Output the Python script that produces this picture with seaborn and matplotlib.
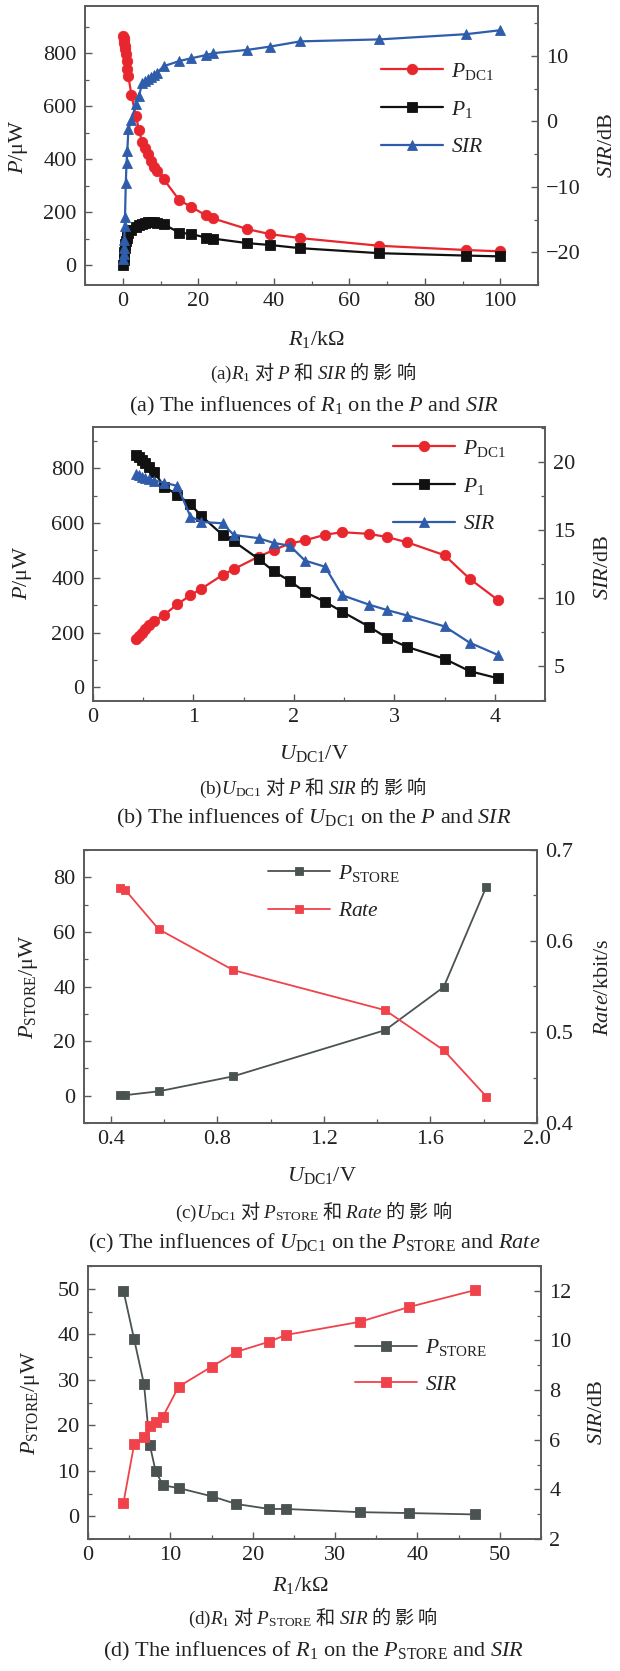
import matplotlib
matplotlib.use("Agg")
import matplotlib.pyplot as plt
import seaborn as sns
from matplotlib.ticker import MultipleLocator, FixedLocator
from matplotlib.lines import Line2D

# ---------------- data ----------------
# (a) influence of R1
a_R1 = [0.1, 0.2, 0.3, 0.4, 0.5, 0.6, 0.8, 1.0, 1.2, 1.5, 2.3, 3.5, 4.3, 5.1, 5.8,
        6.6, 7.5, 8.3, 9.1, 10.8, 15, 18, 22, 24, 33, 39, 47, 68, 91, 100]
a_PDC1 = [865, 858, 850, 840, 828, 814, 795, 770, 742, 712, 642, 561, 511, 465, 441,
          420, 394, 372, 356, 325, 245, 221, 188, 176, 136, 117, 102, 73, 57, 52]
a_P1 = [0, 18, 35, 50, 64, 78, 92, 104, 112, 120, 133, 145, 152, 157, 160,
        162, 163, 162, 160, 155, 122, 118, 104, 100, 83, 76, 64, 45, 36, 33]
a_SIR = [-21.0, -20.2, -19.3, -18.2, -16.0, -14.6, -9.5, -6.4, -4.6, -1.2, 0.2, 2.6, 3.8, 5.8, 6.2,
         6.5, 6.8, 7.1, 7.4, 8.4, 9.2, 9.6, 10.1, 10.4, 10.9, 11.4, 12.2, 12.5, 13.3, 13.9]

# (b) influence of U_DC1
b_U = [0.43, 0.46, 0.49, 0.52, 0.56, 0.61, 0.71, 0.84, 0.97, 1.08, 1.29, 1.40,
       1.65, 1.80, 1.96, 2.11, 2.31, 2.48, 2.75, 2.93, 3.13, 3.50, 3.75, 4.03]
b_PDC1 = [176, 188, 200, 213, 228, 243, 265, 303, 336, 360, 410, 431,
          477, 501, 525, 536, 557, 566, 560, 548, 529, 482, 396, 319]
b_P1 = [848, 840, 830, 818, 805, 785, 732, 702, 668, 625, 556, 533,
        468, 423, 388, 348, 312, 276, 221, 180, 147, 104, 59, 33]
b_SIR = [19.15, 19.05, 18.95, 18.85, 18.75, 18.65, 18.5, 18.25, 16.0, 15.6, 15.5, 14.65,
         14.4, 14.05, 13.85, 12.75, 12.3, 10.2, 9.5, 9.1, 8.7, 7.9, 6.7, 5.8]

# (c) influence of U_DC1 on P_STORE and Rate
c_U = [0.435, 0.455, 0.58, 0.86, 1.43, 1.65, 1.81]
c_PSTORE = [0.1, 0.2, 1.6, 7.1, 24.0, 39.8, 76.6]
c_Rate = [0.658, 0.656, 0.613, 0.568, 0.524, 0.480, 0.429]

# (d) influence of R1 on P_STORE and SIR
d_R1 = [4.3, 5.6, 6.8, 7.5, 8.2, 9.1, 11, 15, 18, 22, 24, 33, 39, 47]
d_PSTORE = [49.6, 38.9, 29.0, 15.7, 10.0, 6.8, 6.2, 4.4, 2.7, 1.6, 1.6, 0.9, 0.7, 0.4]
d_SIR = [3.45, 5.81, 6.10, 6.55, 6.71, 6.93, 8.14, 8.94, 9.54, 9.95, 10.22, 10.75, 11.35, 12.03]

# ---------------- style ----------------
sns.set_style("ticks")
plt.rcParams["font.family"] = ["Liberation Serif", "Noto Sans CJK SC"]
plt.rcParams["mathtext.fontset"] = "custom"
plt.rcParams["mathtext.rm"] = "Liberation Serif"
plt.rcParams["mathtext.it"] = "Liberation Serif:italic"
plt.rcParams["mathtext.bf"] = "Liberation Serif:bold"

RED = "#e8262d"
BLACK = "#111111"
BLUE = "#2f5dab"
GRAY = "#4b5252"
RED2 = "#f0424a"
TXT = "#222222"
SPINE = "#5a5a5a"
TICK = 16

W, H = 620, 1671
fig = plt.figure(figsize=(W / 100, H / 100), dpi=100)


def box(l, t, r, b):
    return [l / W, 1 - b / H, (r - l) / W, (b - t) / H]


def style(ax, ax2):
    for a in (ax, ax2):
        for s in a.spines.values():
            s.set_color(SPINE)
            s.set_linewidth(1.2)
        a.set_xlabel("")
        a.set_ylabel("")
    ax.tick_params(axis="both", which="both", direction="in", colors=SPINE,
                   labelcolor=TXT, labelsize=TICK, top=False, right=False)
    ax.tick_params(axis="both", which="major", length=5, width=1.0)
    ax.tick_params(axis="both", which="minor", length=3, width=0.9)
    ax.tick_params(axis="x", which="major", pad=5)
    ax.tick_params(axis="y", which="major", pad=6)
    ax2.tick_params(axis="y", which="both", direction="in", colors=SPINE,
                    labelcolor=TXT, labelsize=TICK, left=False)
    ax2.tick_params(axis="y", which="major", length=5, width=1.0, pad=6)
    ax2.tick_params(axis="y", which="minor", length=3, width=0.9)


def line(ax, x, y, color, marker, ms, lw):
    sns.lineplot(x=x, y=y, ax=ax, color=color, marker=marker, markersize=ms,
                 markeredgecolor=color, markeredgewidth=0.6, linewidth=lw,
                 legend=False)


def proxy(color, marker, ms, lw):
    return Line2D([], [], color=color, marker=marker, markersize=ms,
                  markeredgecolor=color, markeredgewidth=0.6, linewidth=lw)


def legend(ax, handles, labels, x, y, spacing):
    ax.legend(handles, labels, loc="center left", bbox_to_anchor=(x / W, 1 - y / H),
              bbox_transform=fig.transFigure, frameon=False, fontsize=15.5,
              handlelength=2.9, handletextpad=0.35, labelspacing=spacing,
              borderpad=0, borderaxespad=0, labelcolor=TXT)


def ftext(x, y, s, size=16, rot=0, fam=None):
    kw = {}
    if fam is not None:
        kw["family"] = fam
    fig.text(x / W, 1 - y / H, s, ha="center", va="center", rotation=rot,
             fontsize=size, color=TXT, **kw)


CJK = ["Noto Sans CJK SC"]
CN = 13.8
EN = 16

# ---------------- (a) ----------------
ax = fig.add_axes(box(85, 6, 538, 285))
ax2 = ax.twinx()
line(ax, a_R1, a_PDC1, RED, "o", 7.5, 1.6)
line(ax, a_R1, a_P1, BLACK, "s", 6.5, 1.6)
line(ax2, a_R1, a_SIR, BLUE, "^", 7.5, 1.6)
ax.set_xlim(-10, 110)
ax.set_ylim(-75, 978)
ax2.set_ylim(-25, 17.6)
ax.xaxis.set_major_locator(MultipleLocator(20))
ax.xaxis.set_minor_locator(MultipleLocator(10))
ax.yaxis.set_major_locator(MultipleLocator(200))
ax.yaxis.set_minor_locator(MultipleLocator(100))
ax2.yaxis.set_major_locator(MultipleLocator(10))
ax2.yaxis.set_minor_locator(MultipleLocator(5))
style(ax, ax2)
legend(ax2, [proxy(RED, "o", 7.5, 1.6), proxy(BLACK, "s", 6.5, 1.6), proxy(BLUE, "^", 7.5, 1.6)],
       [r"$P_{\mathrm{DC1}}$", r"$P_{\mathrm{1}}$", r"$SIR$"], 381, 109, 0.8)
ftext(19, 147, r"$P$/μW", rot=90)
ftext(608, 145, r"$SIR$/dB", rot=90)
ftext(316, 340, r"$R_{\mathrm{1}}$/kΩ")
ftext(313, 373, r"$\mathrm{(a)}R_{\mathrm{1}}$ 对 $P$ 和 $SIR$ 的 影 响", size=CN, fam=CJK)
ftext(314, 406, r"(a) The influences of $R_{\mathrm{1}}$ on the $P$ and $SIR$", size=EN)

# ---------------- (b) ----------------
ax = fig.add_axes(box(93, 427, 545, 701))
ax2 = ax.twinx()
line(ax, b_U, b_PDC1, RED, "o", 7.5, 1.6)
line(ax, b_U, b_P1, BLACK, "s", 6.5, 1.6)
line(ax2, b_U, b_SIR, BLUE, "^", 7.5, 1.6)
ax.set_xlim(0, 4.5)
ax.set_ylim(-50, 950)
ax2.set_ylim(2.4, 22.6)
ax.xaxis.set_major_locator(MultipleLocator(1))
ax.xaxis.set_minor_locator(MultipleLocator(0.5))
ax.yaxis.set_major_locator(MultipleLocator(200))
ax.yaxis.set_minor_locator(MultipleLocator(100))
ax2.yaxis.set_major_locator(MultipleLocator(5))
ax2.yaxis.set_minor_locator(MultipleLocator(2.5))
style(ax, ax2)
legend(ax2, [proxy(RED, "o", 7.5, 1.6), proxy(BLACK, "s", 6.5, 1.6), proxy(BLUE, "^", 7.5, 1.6)],
       [r"$P_{\mathrm{DC1}}$", r"$P_{\mathrm{1}}$", r"$SIR$"], 393, 486, 0.8)
ftext(23, 573, r"$P$/μW", rot=90)
ftext(603, 567, r"$SIR$/dB", rot=90)
ftext(314, 753, r"$U_{\mathrm{DC1}}$/V")
ftext(313, 788, r"$\mathrm{(b)}U_{\mathrm{DC1}}$ 对 $P$ 和 $SIR$ 的 影 响", size=CN, fam=CJK)
ftext(314, 818, r"(b) The influences of $U_{\mathrm{DC1}}$ on the $P$ and $SIR$", size=EN)

# ---------------- (c) ----------------
ax = fig.add_axes(box(84, 850, 537, 1123))
ax2 = ax.twinx()
line(ax, c_U, c_PSTORE, GRAY, "s", 6.0, 1.3)
line(ax2, c_U, c_Rate, RED2, "s", 6.0, 1.3)
ax.set_xlim(0.3, 2.0)
ax.set_ylim(-10, 90)
ax2.set_ylim(0.4, 0.7)
ax.xaxis.set_major_locator(FixedLocator([0.4, 0.8, 1.2, 1.6, 2.0]))
ax.xaxis.set_minor_locator(FixedLocator([0.6, 1.0, 1.4, 1.8]))
ax.yaxis.set_major_locator(MultipleLocator(20))
ax.yaxis.set_minor_locator(MultipleLocator(10))
ax2.yaxis.set_major_locator(FixedLocator([0.4, 0.5, 0.6, 0.7]))
ax2.yaxis.set_minor_locator(FixedLocator([0.45, 0.55, 0.65]))
style(ax, ax2)
legend(ax2, [proxy(GRAY, "s", 6.0, 1.3), proxy(RED2, "s", 6.0, 1.3)],
       [r"$P_{\mathrm{STORE}}$", r"$Rate$"], 268, 892, 0.8)
ftext(29, 987, r"$P_{\mathrm{STORE}}$/μW", rot=90)
ftext(604, 987, r"$Rate$/kbit/s", rot=90)
ftext(322, 1175, r"$U_{\mathrm{DC1}}$/V")
ftext(313, 1212, r"$\mathrm{(c)}U_{\mathrm{DC1}}$ 对 $P_{\mathrm{STORE}}$ 和 $Rate$ 的 影 响", size=CN, fam=CJK)
ftext(314, 1243, r"(c) The influences of $U_{\mathrm{DC1}}$ on the $P_{\mathrm{STORE}}$ and $Rate$", size=EN)

# ---------------- (d) ----------------
ax = fig.add_axes(box(88, 1266, 541, 1539))
ax2 = ax.twinx()
line(ax, d_R1, d_PSTORE, GRAY, "s", 6.5, 1.3)
line(ax2, d_R1, d_SIR, RED2, "s", 6.5, 1.3)
ax.set_xlim(0, 55)
ax.set_ylim(-5, 55)
ax2.set_ylim(2, 13)
ax.xaxis.set_major_locator(MultipleLocator(10))
ax.xaxis.set_minor_locator(MultipleLocator(5))
ax.yaxis.set_major_locator(MultipleLocator(10))
ax.yaxis.set_minor_locator(MultipleLocator(5))
ax2.yaxis.set_major_locator(MultipleLocator(2))
ax2.yaxis.set_minor_locator(MultipleLocator(1))
style(ax, ax2)
legend(ax2, [proxy(GRAY, "s", 6.5, 1.3), proxy(RED2, "s", 6.5, 1.3)],
       [r"$P_{\mathrm{STORE}}$", r"$SIR$"], 355, 1366, 0.75)
ftext(31, 1403, r"$P_{\mathrm{STORE}}$/μW", rot=90)
ftext(598, 1412, r"$SIR$/dB", rot=90)
ftext(300, 1586, r"$R_{\mathrm{1}}$/kΩ")
ftext(313, 1618, r"$\mathrm{(d)}R_{\mathrm{1}}$ 对 $P_{\mathrm{STORE}}$ 和 $SIR$ 的 影 响", size=CN, fam=CJK)
ftext(314, 1651, r"(d) The influences of $R_{\mathrm{1}}$ on the $P_{\mathrm{STORE}}$ and $SIR$", size=EN)

fig.savefig("out.png", dpi=100)
